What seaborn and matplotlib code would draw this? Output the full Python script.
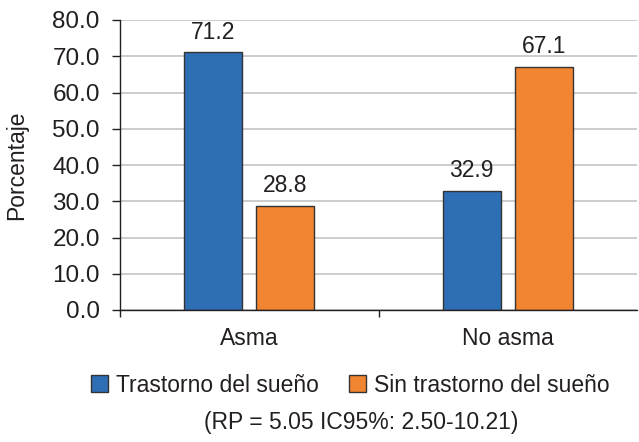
"""Asma vs trastorno del sueño - barras agrupadas."""

import matplotlib
matplotlib.use("Agg")
import matplotlib.pyplot as plt
from matplotlib.patches import Patch
from matplotlib.ticker import FormatStrFormatter, FixedLocator
import pandas as pd
import seaborn as sns

# datos
categorias = ["Asma", "No asma"]
series = ["Trastorno del sueño", "Sin trastorno del sueño"]
trastorno = [71.2, 32.9]
sin_trastorno = [28.8, 67.1]
nota = "(RP = 5.05 IC95%: 2.50-10.21)"

colores = ["#2E6EB5", "#F28531"]
texto = "#231F20"
fs = 16.5

df = pd.DataFrame({
    "grupo": categorias * 2,
    "serie": [series[0]] * 2 + [series[1]] * 2,
    "valor": trastorno + sin_trastorno,
})

sns.set_style("white")
plt.rcParams["font.family"] = ["Liberation Sans", "DejaVu Sans"]
plt.rcParams["text.color"] = texto

fig = plt.figure(figsize=(6.39, 4.42), dpi=100)
ax = fig.add_axes([120 / 639, 1 - 310 / 442, 517 / 639, 290 / 442])

sns.barplot(
    data=df, x="grupo", y="valor", hue="serie", hue_order=series,
    palette=colores, saturation=1, width=0.56, gap=0.2, edgecolor="#333333",
    linewidth=1.0, ax=ax, legend=False,
)

for cont in ax.containers:
    ax.bar_label(cont, fmt="%.1f", padding=6, fontsize=fs, color=texto)

ax.set_ylim(0, 80)
ax.set_xlim(-0.5, 1.5)
ax.set_yticks(range(0, 81, 10))
ax.yaxis.set_major_formatter(FormatStrFormatter("%.1f"))
ax.yaxis.grid(True, color="#C8C8C8", linewidth=1.3)
ax.set_axisbelow(True)

for s in ["top", "right"]:
    ax.spines[s].set_visible(False)
for s in ["left", "bottom"]:
    ax.spines[s].set_color("#231F20")
    ax.spines[s].set_linewidth(1.0)

# ticks del eje x entre categorias, etiquetas centradas
ax.xaxis.set_major_locator(FixedLocator([-0.5, 0.5]))
ax.xaxis.set_minor_locator(FixedLocator([0, 1]))
ax.set_xticklabels([])
ax.set_xticklabels(categorias, minor=True)
ax.tick_params(axis="x", which="major", length=5, width=1, color=texto, direction="out", bottom=True)
ax.tick_params(axis="x", which="minor", length=0, pad=12, labelsize=fs, labelcolor=texto)
ax.tick_params(axis="y", length=6, width=1, color=texto, direction="out", left=True, labelsize=17.5, labelcolor=texto, pad=8.5)

ax.set_xlabel("")
ax.set_ylabel("Porcentaje", fontsize=fs, color=texto)
ax.yaxis.set_label_coords(-0.178, 0.5)

handles = [Patch(facecolor=c, edgecolor="#333333", linewidth=1.0) for c in colores]
fig.legend(
    handles, series, loc="center", bbox_to_anchor=(350 / 639, 1 - 385 / 442),
    ncol=2, frameon=False, fontsize=fs, handlelength=0.75, handleheight=0.75,
    handletextpad=0.35, columnspacing=1.3,
)

fig.text(361 / 639, 1 - 422 / 442, nota, ha="center", va="center", fontsize=fs, color=texto)

fig.savefig("out.png", dpi=100)
